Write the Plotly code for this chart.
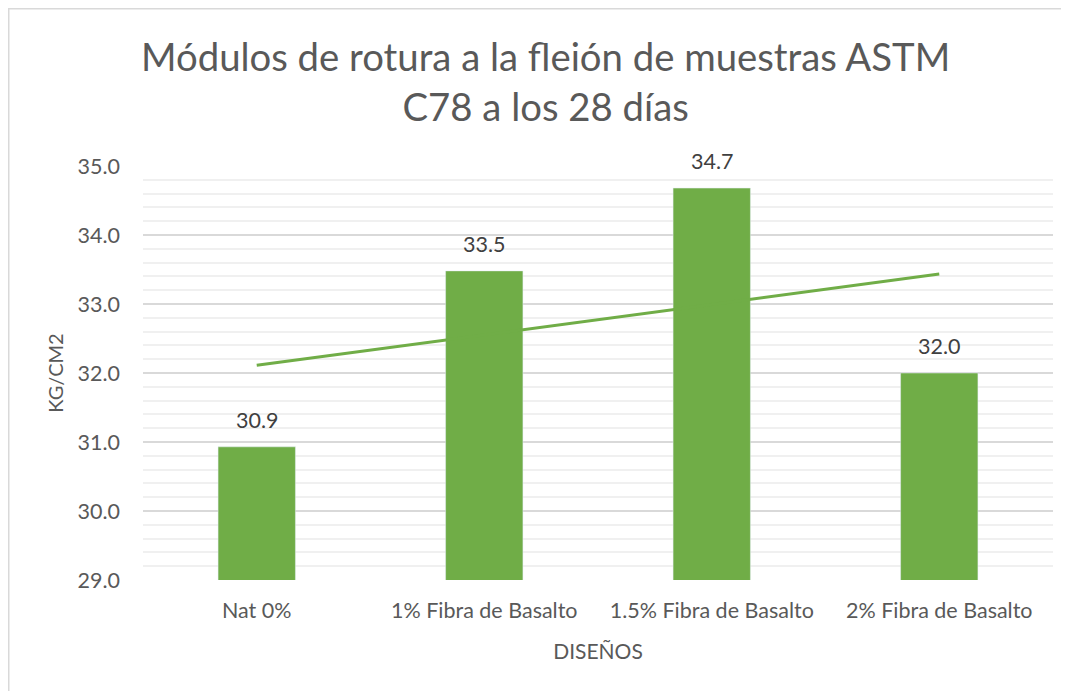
import plotly.graph_objects as go
import numpy as np

categories = ["Nat 0%", "1% Fibra de Basalto", "1.5% Fibra de Basalto", "2% Fibra de Basalto"]
values = [30.93, 33.48, 34.68, 32.00]

title_lines = ["Módulos de rotura a la fleión de muestras ASTM", "C78 a los 28 días"]
y_title = "KG/CM2"
x_title = "DISEÑOS"

FONT = "Lato, Carlito, Calibri, sans-serif"
GREEN = "#70AD47"
TXT = "#595959"

W, H = 1069, 691
L, R, T, B = 135, 24, 158, 119
PW, PH = W - L - R, H - T - B

# linear trendline (least squares over category index)
xi = np.arange(1, len(values) + 1)
slope, intercept = np.polyfit(xi, values, 1)
trend = slope * xi + intercept

fig = go.Figure()
fig.add_trace(go.Bar(
    x=categories, y=values, marker_color=GREEN, width=0.34,
    showlegend=False, hoverinfo="skip",
))
fig.add_trace(go.Scatter(
    x=categories, y=trend, mode="lines",
    line=dict(color=GREEN, width=3), showlegend=False, hoverinfo="skip",
))

for c, v in zip(categories, values):
    fig.add_annotation(x=c, y=v, text=f"{v:.1f}", showarrow=False,
                       yanchor="bottom", yshift=12,
                       font=dict(family=FONT, size=21.5, color="#404040"))

# title
fig.add_annotation(xref="paper", yref="paper", x=(537 - L) / PW, y=1 + (T - 73) / PH,
                   xanchor="center", yanchor="middle", showarrow=False,
                   text="<br>".join(title_lines),
                   font=dict(family=FONT, size=38.3, color=TXT))

px = lambda p: (p - L) / PW
py = lambda p: 1 + (T - p) / PH

fig.update_layout(
    width=W, height=H,
    paper_bgcolor="white", plot_bgcolor="white",
    margin=dict(l=L, r=R, t=T, b=B),
    shapes=[
        dict(type="line", xref="paper", yref="paper", x0=px(0), x1=px(W), y0=py(0.5), y1=py(0.5),
             line=dict(color="#d9d9d9", width=2)),
        dict(type="line", xref="paper", yref="paper", x0=px(0.5), x1=px(0.5), y0=py(0), y1=py(H),
             line=dict(color="#d9d9d9", width=2)),
    ],
)

fig.update_xaxes(
    showgrid=False, showline=False, ticks="",
    tickfont=dict(family=FONT, size=21.5, color=TXT),
    ticklabelstandoff=15,
    title=dict(text=x_title, font=dict(family=FONT, size=21, color=TXT), standoff=22),
)
fig.update_yaxes(
    range=[29, 35], dtick=1, tick0=29, tickformat=".1f",
    showgrid=True, gridcolor="#d9d9d9", gridwidth=1.5,
    zeroline=False, showline=False, ticks="",
    minor=dict(dtick=0.2, showgrid=True, gridcolor="#f0f0f0", gridwidth=1.5),
    tickfont=dict(family=FONT, size=21.5, color=TXT),
    ticklabelstandoff=22,
    title=dict(text=y_title, font=dict(family=FONT, size=20, color=TXT), standoff=8),
)

fig.write_html("out.html")
